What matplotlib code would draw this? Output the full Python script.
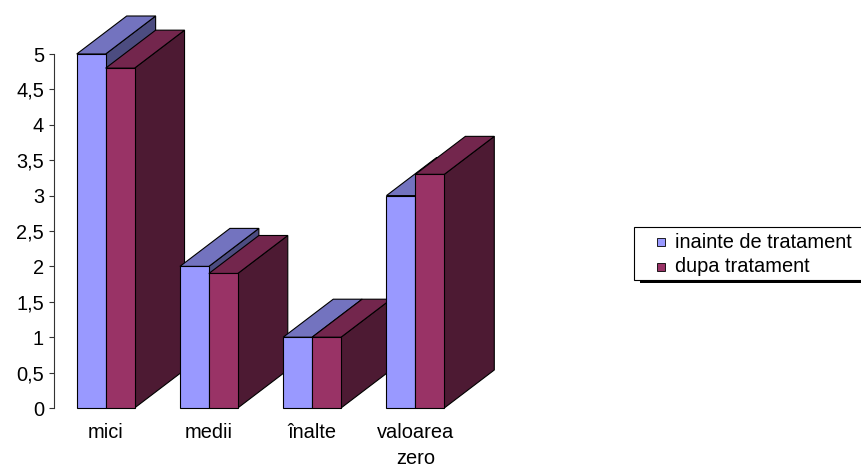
import matplotlib
matplotlib.use("Agg")
import matplotlib.pyplot as plt
from matplotlib.patches import Polygon, Rectangle
import matplotlib.ticker as mticker

categories = ["mici", "medii", "înalte", "valoarea\nzero"]
series_names = ["inainte de tratament", "dupa tratament"]
before = [5, 2, 1, 3]
after = [4.8, 1.9, 1, 3.3]
y_ticks = [0, 0.5, 1, 1.5, 2, 2.5, 3, 3.5, 4, 4.5, 5]

# front, top, side shades for each series
shades = [
    ("#9999FF", "#7373BF", "#4C4C80"),
    ("#993366", "#73264D", "#4D1A33"),
]

plt.rcParams["font.family"] = ["Liberation Sans", "DejaVu Sans"]
FS = 14.4

W, H = 862, 468
fig = plt.figure(figsize=(W / 100, H / 100), dpi=100)
ax_left, ax_bottom, ax_w, ax_h = 54, 60, 413, 354
ax = fig.add_axes([ax_left / W, ax_bottom / H, ax_w / W, ax_h / H])
ax.set_xlim(-0.5, len(categories) - 0.5)
ax.set_ylim(0, 5)

# depth of the boxes, given in pixels and turned into data units
depth_dx = 50 * len(categories) / ax_w
depth_dy = 38 * 5 / ax_h
bar_w = 0.28


def draw_box(x0, h, colors):
    front_c, top_c, side_c = colors
    x1 = x0 + bar_w
    kw = dict(edgecolor="black", linewidth=0.8, clip_on=False, joinstyle="miter")
    ax.add_patch(Polygon([(x1, 0), (x1 + depth_dx, depth_dy), (x1 + depth_dx, h + depth_dy), (x1, h)],
                         facecolor=side_c, **kw))
    ax.add_patch(Polygon([(x0, h), (x1, h), (x1 + depth_dx, h + depth_dy), (x0 + depth_dx, h + depth_dy)],
                         facecolor=top_c, **kw))
    ax.add_patch(Rectangle((x0, 0), bar_w, h, facecolor=front_c, **kw))


for i in range(len(categories)):
    for s, values in enumerate([before, after]):
        draw_box(i - bar_w + s * bar_w, values[i], shades[s])

for side in ["top", "right", "bottom"]:
    ax.spines[side].set_visible(False)
ax.spines["left"].set_color("#333333")
ax.spines["left"].set_linewidth(0.8)

ax.set_yticks(y_ticks)
ax.yaxis.set_major_formatter(mticker.FuncFormatter(lambda v, p: f"{v:g}".replace(".", ",")))
ax.tick_params(axis="y", length=3.6, width=0.8, color="#333333", pad=3.6, labelsize=FS)
ax.set_xticks(range(len(categories)))
ax.set_xticklabels(categories, fontsize=FS, linespacing=1.45)
ax.tick_params(axis="x", length=0, pad=11)

# legend box with a drop shadow, running off the right edge
lx0, ly0, lx1, ly1 = 634, 227, 872, 280
fig.patches.append(Rectangle(((lx0 + 6) / W, (H - ly1 - 3) / H), (lx1 - lx0) / W, (ly1 - ly0) / H,
                             transform=fig.transFigure, facecolor="black", edgecolor="none"))
fig.patches.append(Rectangle((lx0 / W, (H - ly1) / H), (lx1 - lx0) / W, (ly1 - ly0) / H,
                             transform=fig.transFigure, facecolor="white", edgecolor="black", linewidth=0.8))
for k, name in enumerate(series_names):
    yc = 242 + 25 * k
    fig.patches.append(Rectangle((657 / W, (H - yc - 4) / H), 8 / W, 8 / H, transform=fig.transFigure,
                                 facecolor=shades[k][0], edgecolor="black", linewidth=0.6))
    fig.text(675 / W, (H - yc) / H, name, fontsize=FS, va="center", ha="left")

fig.savefig("out.png", dpi=100)
